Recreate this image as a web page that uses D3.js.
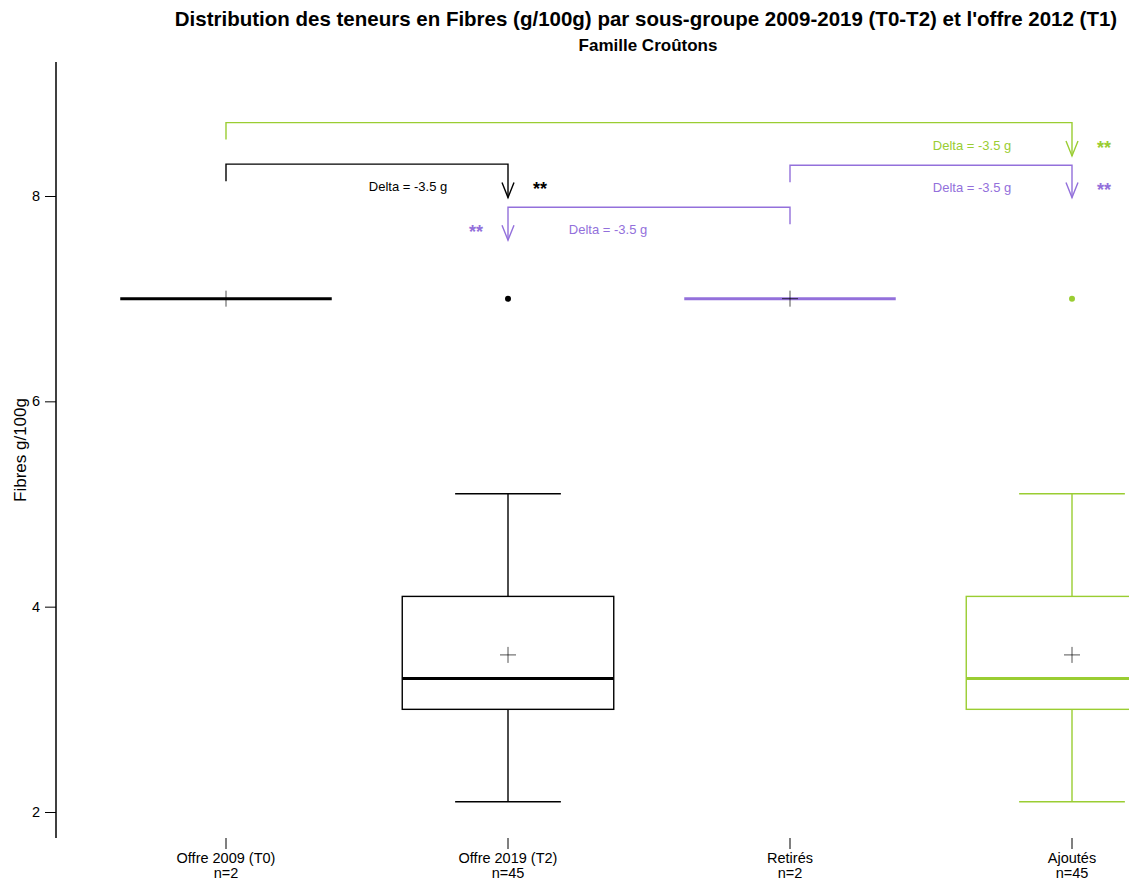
<!DOCTYPE html>
<html><head><meta charset="utf-8">
<script src="https://cdn.jsdelivr.net/npm/d3@7"></script>
<style>body{margin:0;background:#fff}svg{display:block;font-family:"Liberation Sans",Arial,sans-serif}</style>
</head><body><svg id="c" width="1129" height="886"></svg>
<script>
const categories = ["Offre 2009 (T0)", "Offre 2019 (T2)", "Retirés", "Ajoutés"];
const counts = [2, 45, 2, 45];
const colors = ["#000000", "#000000", "#9370DB", "#9ACD32"];
const whiskerLow = [7.0, 2.1, 7.0, 2.1];
const q1 = [7.0, 3.0, 7.0, 3.0];
const median = [7.0, 3.3, 7.0, 3.3];
const q3 = [7.0, 4.1, 7.0, 4.1];
const whiskerHigh = [7.0, 5.1, 7.0, 5.1];
const means = [7.0, 3.53, 7.0, 3.53];
const outliers = [[], [7.0], [], [7.0]];
const yTicks = [2, 4, 6, 8];
// comparisons: from index, to index, bracket level, arrow end, label
const cmpFrom = [0, 2, 2, 0];
const cmpTo = [1, 1, 3, 3];
const cmpLevel = [8.31, 7.89, 8.30, 8.715];
const cmpArrowEnd = [7.985, 7.57, 7.985, 8.39];
const cmpColor = ["#000000", "#9370DB", "#9370DB", "#9ACD32"];
const cmpLabel = ["Delta = -3.5 g", "Delta = -3.5 g", "Delta = -3.5 g", "Delta = -3.5 g"];
const cmpSig = ["**", "**", "**", "**"];

const svg = d3.select("#c");
const y = d3.scaleLinear().domain([2, 8]).range([812, 196]);
const x = d3.scalePoint().domain(categories).range([226, 1072]);
const step = x.step();
const boxW = step * 0.75;

// title
svg.append("text").attr("x", 646).attr("y", 26).attr("text-anchor", "middle")
  .attr("font-size", 20.5).attr("font-weight", "bold")
  .text("Distribution des teneurs en Fibres (g/100g) par sous-groupe 2009-2019 (T0-T2) et l'offre 2012 (T1)");
svg.append("text").attr("x", 648).attr("y", 51).attr("text-anchor", "middle")
  .attr("font-size", 17).attr("font-weight", "bold").text("Famille Croûtons");

// y axis
svg.append("line").attr("x1", 56).attr("x2", 56).attr("y1", 62).attr("y2", 838)
  .attr("stroke", "#000").attr("stroke-width", 1.5);
const yAxis = svg.append("g").attr("transform", "translate(56,0)")
  .call(d3.axisLeft(y).tickValues(yTicks).tickSize(11).tickPadding(5).tickFormat(d3.format("d")));
yAxis.select(".domain").remove();
yAxis.selectAll("text").attr("font-size", 14.5).attr("font-family", "Liberation Sans, Arial, sans-serif").attr("fill", "#000");
yAxis.selectAll("line").attr("stroke", "#000").attr("stroke-width", 1);
svg.append("text").attr("transform", "translate(26,450) rotate(-90)").attr("text-anchor", "middle")
  .attr("font-size", 17).text("Fibres g/100g");

// x axis ticks and labels
const xg = svg.append("g");
categories.forEach((c, i) => {
  const cx = x(c);
  xg.append("line").attr("x1", cx).attr("x2", cx).attr("y1", 838).attr("y2", 849).attr("stroke", "#000");
  xg.append("text").attr("x", cx).attr("y", 863).attr("text-anchor", "middle").attr("font-size", 14.5).text(c);
  xg.append("text").attr("x", cx).attr("y", 878).attr("text-anchor", "middle").attr("font-size", 14.5).text("n=" + counts[i]);
});

// boxes
const bg = svg.append("g");
categories.forEach((c, i) => {
  const cx = x(c), col = colors[i];
  const g = bg.append("g");
  if (whiskerHigh[i] !== whiskerLow[i]) {
    g.append("line").attr("x1", cx).attr("x2", cx).attr("y1", y(q3[i])).attr("y2", y(whiskerHigh[i])).attr("stroke", col).attr("stroke-width", 1.4);
    g.append("line").attr("x1", cx).attr("x2", cx).attr("y1", y(q1[i])).attr("y2", y(whiskerLow[i])).attr("stroke", col).attr("stroke-width", 1.4);
    g.append("line").attr("x1", cx - boxW / 4).attr("x2", cx + boxW / 4).attr("y1", y(whiskerHigh[i])).attr("y2", y(whiskerHigh[i])).attr("stroke", col).attr("stroke-width", 1.4);
    g.append("line").attr("x1", cx - boxW / 4).attr("x2", cx + boxW / 4).attr("y1", y(whiskerLow[i])).attr("y2", y(whiskerLow[i])).attr("stroke", col).attr("stroke-width", 1.4);
    g.append("rect").attr("x", cx - boxW / 2).attr("width", boxW).attr("y", y(q3[i])).attr("height", y(q1[i]) - y(q3[i]))
      .attr("fill", "none").attr("stroke", col).attr("stroke-width", 1.4);
  }
  g.append("line").attr("x1", cx - boxW / 2).attr("x2", cx + boxW / 2).attr("y1", y(median[i])).attr("y2", y(median[i])).attr("stroke", col).attr("stroke-width", 3);
  // mean cross
  const my = y(means[i]);
  g.append("line").attr("x1", cx - 8).attr("x2", cx + 8).attr("y1", my).attr("y2", my).attr("stroke", "#000").attr("stroke-width", 0.9).attr("opacity", 0.75);
  g.append("line").attr("x1", cx).attr("x2", cx).attr("y1", my - 8).attr("y2", my + 8).attr("stroke", "#000").attr("stroke-width", 0.9).attr("opacity", 0.75);
  outliers[i].forEach(v => g.append("circle").attr("cx", cx).attr("cy", y(v)).attr("r", 3).attr("fill", col));
});

// comparison brackets
const cg = svg.append("g");
cmpFrom.forEach((f, k) => {
  const x1 = x(categories[f]), x2 = x(categories[cmpTo[k]]);
  const ly = y(cmpLevel[k]), ay = y(cmpArrowEnd[k]);
  const col = cmpColor[k];
  cg.append("path").attr("d", `M${x1},${ly + 17}V${ly}H${x2}V${ay}`).attr("fill", "none").attr("stroke", col).attr("stroke-width", 1.4);
  cg.append("path").attr("d", `M${x2 - 6},${ay - 15}L${x2},${ay}L${x2 + 6},${ay - 15}`).attr("fill", "none").attr("stroke", col).attr("stroke-width", 1.4);
  const dir = x2 > x1 ? 1 : -1;
  const ty = ly + 27;
  cg.append("text").attr("x", x2 - dir * 100).attr("y", ty).attr("text-anchor", "middle").attr("font-size", 13)
    .attr("fill", col).text(cmpLabel[k]);
  cg.append("text").attr("x", x2 + dir * 32).attr("y", ty + 4).attr("text-anchor", "middle").attr("font-size", 18)
    .attr("font-weight", "bold").attr("fill", col).text(cmpSig[k]);
});
</script></body></html>
